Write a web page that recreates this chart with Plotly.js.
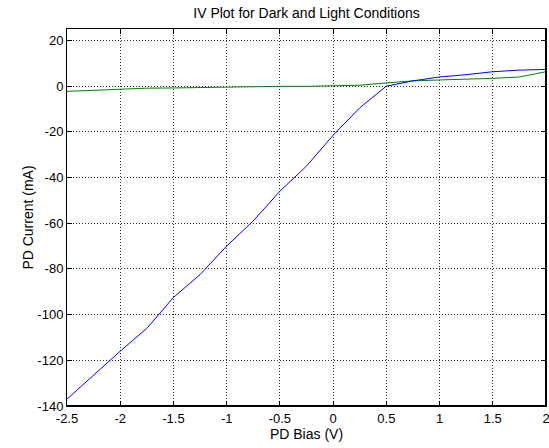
<!DOCTYPE html>
<html>
<head>
<meta charset="utf-8">
<script src="https://cdn.plot.ly/plotly-3.0.1.min.js"></script>
<style>html,body{margin:0;padding:0;background:#fff;}#chart{width:549px;height:448px;}</style>
</head>
<body>
<div id="chart"></div>
<script>
const biasV = [-2.5, -2.25, -2, -1.75, -1.5, -1.25, -1, -0.75, -0.5, -0.25, 0, 0.25, 0.5, 0.75, 1, 1.25, 1.5, 1.75, 2];
const lightCurrent = [-137, -126.5, -116, -106, -92.5, -82.5, -70, -59, -46, -35, -21.5, -9.5, 0, 2.3, 4, 5, 6.3, 7, 7.3];
const darkCurrent = [-2.3, -1.8, -1.3, -0.9, -0.8, -0.6, -0.2, -0.1, -0.1, -0.1, 0, 0.4, 1.4, 2.3, 2.7, 3.0, 3.4, 4.0, 6.3];
const xTicks = [-2.5, -2, -1.5, -1, -0.5, 0, 0.5, 1, 1.5, 2];
const yTicks = [-140, -120, -100, -80, -60, -40, -20, 0, 20];

const fam = 'Liberation Sans, Arial, sans-serif';
const tickFont = {family: fam, size: 13, color: '#000'};
const labelFont = {family: fam, size: 14, color: '#000'};
const axisCommon = {
  showline: true, linecolor: '#000', linewidth: 1, mirror: 'ticks',
  ticks: 'inside', ticklen: 5, tickcolor: '#000', tickwidth: 1,
  showgrid: true, gridcolor: '#333', griddash: '1px,2px', gridwidth: 1,
  zeroline: false, tickfont: tickFont, ticklabeloverflow: 'allow'
};
const data = [
  {x: biasV, y: darkCurrent, type: 'scatter', mode: 'lines', line: {color: '#008000', width: 1}, showlegend: false, cliponaxis: false},
  {x: biasV, y: lightCurrent, type: 'scatter', mode: 'lines', line: {color: '#0000ff', width: 1}, showlegend: false, cliponaxis: false}
];
const layout = {
  width: 549, height: 448,
  margin: {l: 67, r: 3, t: 29, b: 42},
  paper_bgcolor: '#fff', plot_bgcolor: '#fff',
  font: tickFont,
  title: {text: 'IV Plot for Dark and Light Conditions', font: labelFont, x: 0.5, xref: 'paper', y: 1 - 13/448, yref: 'container', yanchor: 'middle'},
  xaxis: Object.assign({}, axisCommon, {range: [-2.5, 2.0001], tickvals: xTicks, ticktext: xTicks.map(String), title: {text: 'PD Bias (V)', font: labelFont, standoff: 0}}),
  yaxis: Object.assign({}, axisCommon, {range: [-140, 25], tickvals: yTicks, ticktext: yTicks.map(String), title: {text: 'PD Current (mA)', font: labelFont, standoff: 0}}),
  shapes: [
    {type: 'line', xref: 'paper', yref: 'paper', x0: 0, x1: 1, y0: 0, y1: 0, line: {color: '#000', width: 2}},
    {type: 'line', xref: 'paper', yref: 'paper', x0: 1, x1: 1, y0: 0, y1: 1, line: {color: '#000', width: 2}}
  ]
};
Plotly.newPlot('chart', data, layout, {displayModeBar: false, staticPlot: true});
</script>
</body>
</html>
